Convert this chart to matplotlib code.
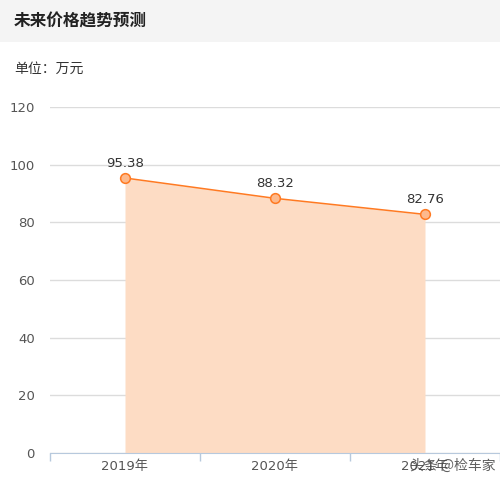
import matplotlib.pyplot as plt
from matplotlib.patches import Rectangle

plt.rcParams['font.family'] = ['Noto Sans CJK SC', 'DejaVu Sans']
num_font = ['DejaVu Sans', 'Noto Sans CJK SC']

# 数据
years = ['2019年', '2020年', '2021年']
prices = [95.38, 88.32, 82.76]
y_ticks = [0, 20, 40, 60, 80, 100, 120]

W, H = 500, 484
fig = plt.figure(figsize=(W / 100, H / 100), dpi=100)

# 顶部灰色标题栏
fig.patches.append(Rectangle((0, 1 - 42 / H), 1, 42 / H, transform=fig.transFigure,
                             facecolor='#f4f4f4', edgecolor='none', zorder=0))
fig.text(14 / W, 1 - 21 / H, '未来价格趋势预测', fontsize=12, fontweight='bold',
         color='#222222', va='center', ha='left')
fig.text(14 / W, 1 - 69 / H, '单位：万元', fontsize=10, color='#333333',
         va='center', ha='left')

ax = fig.add_axes([50 / W, (H - 453) / H, 450 / W, (453 - 107) / H])
x = list(range(len(years)))

ax.fill_between(x, prices, 0, color='#fddcc4', linewidth=0, zorder=1)
ax.plot(x, prices, color='#ff7a22', linewidth=1.1, marker='o', markersize=7,
        markerfacecolor='#fdb98c', markeredgecolor='#ff7a22', markeredgewidth=1.1, zorder=3)
for xi, v in zip(x, prices):
    ax.annotate(f'{v:.2f}', (xi, v), xytext=(0, 6), textcoords='offset points',
                ha='center', va='bottom', fontsize=9.5, color='#333333', family=num_font)

ax.set_xlim(-0.5, len(years) - 0.5)
ax.set_ylim(0, 120)
ax.set_yticks(y_ticks)
ax.yaxis.grid(True, color='#dcdcdc', linewidth=1)
ax.set_axisbelow(True)
ax.tick_params(axis='y', length=0, pad=11, labelsize=9.5, labelcolor='#555555')
for lab in ax.get_yticklabels():
    lab.set_family(num_font)

ax.set_xticks([i - 0.5 for i in range(len(years) + 1)], minor=False)
ax.set_xticklabels([''] * (len(years) + 1))
ax.set_xticks(x, minor=True)
ax.set_xticklabels(years, minor=True, family=num_font)
ax.tick_params(axis='x', which='major', length=6, color='#b7c9dd', width=1)
ax.tick_params(axis='x', which='minor', length=0, pad=5, labelsize=9.5, labelcolor='#555555')

for s in ['top', 'right', 'left']:
    ax.spines[s].set_visible(False)
ax.spines['bottom'].set_color('#b7c9dd')

# 水印
fig.text(410 / W, 1 - 466 / H, '头条 @检车家', fontsize=10, color='#444444',
         va='center', ha='left', alpha=0.85)

fig.savefig('out.png', dpi=100)
